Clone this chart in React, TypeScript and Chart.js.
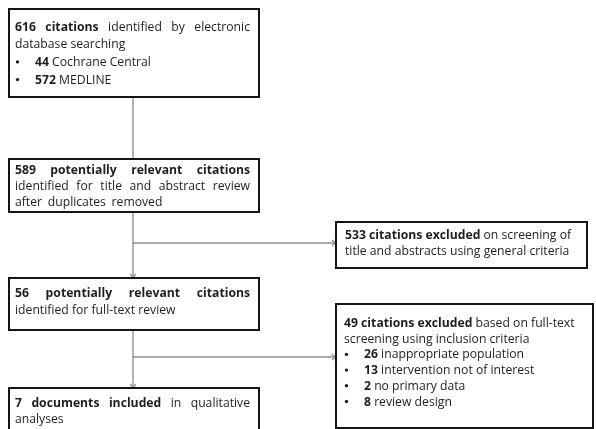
import { useEffect, useRef } from "react";
import { Chart, registerables } from "chart.js";

Chart.register(...registerables);

// ---- data ----
const identifiedTotal = 616;
const sourceNames = ["Cochrane Central", "MEDLINE"];
const sourceCounts = [44, 572];
const screenedCount = 589;
const excludedTitleCount = 533;
const fullTextCount = 56;
const excludedFullCount = 49;
const exclusionReasons = [
  "inappropriate population",
  "intervention not of interest",
  "no primary data",
  "review design",
];
const exclusionCounts = [26, 13, 2, 8];
const includedCount = 7;

// ---- layout (chart value space: x 0..596, y 0..429 from top) ----
type Seg = { t: string; b?: boolean };
type TLine = { segs: Seg[]; justify?: boolean; bullet?: boolean };
type Node = {
  x: number; y: number; w: number; h: number;
  tx: number; tr: number; by: number; lh: number;
  lines: TLine[];
};

const nodes: Node[] = [
  {
    x: 9, y: 9, w: 250, h: 88, tx: 15, tr: 250, by: 30.5, lh: 17.7,
    lines: [
      { segs: [{ t: `${identifiedTotal} citations`, b: true }, { t: " identified by electronic" }], justify: true },
      { segs: [{ t: "database searching" }] },
      ...sourceNames.map((n, i) => ({ bullet: true, segs: [{ t: `${sourceCounts[i]}`, b: true }, { t: " " + n }] })),
    ],
  },
  {
    x: 9, y: 159, w: 250, h: 53, tx: 15, tr: 250, by: 173.5, lh: 16,
    lines: [
      { segs: [{ t: `${screenedCount} potentially relevant citations`, b: true }], justify: true },
      { segs: [{ t: "identified for title and abstract review" }], justify: true },
      { segs: [{ t: "after  duplicates  removed" }] },
    ],
  },
  {
    x: 336, y: 222, w: 251, h: 46, tx: 345, tr: 580, by: 239, lh: 16,
    lines: [
      { segs: [{ t: `${excludedTitleCount} citations excluded`, b: true }, { t: " on screening of" }] },
      { segs: [{ t: "title and abstracts using general criteria" }] },
    ],
  },
  {
    x: 9, y: 278, w: 250, h: 52, tx: 15, tr: 250, by: 297, lh: 16.5,
    lines: [
      { segs: [{ t: `${fullTextCount} potentially relevant citations`, b: true }], justify: true },
      { segs: [{ t: "identified for full-text review" }] },
    ],
  },
  {
    x: 336, y: 304, w: 257, h: 124, tx: 344, tr: 585, by: 327, lh: 15.7,
    lines: [
      { segs: [{ t: `${excludedFullCount} citations excluded`, b: true }, { t: " based on full-text" }] },
      { segs: [{ t: "screening using inclusion criteria" }] },
      ...exclusionReasons.map((r, i) => ({ bullet: true, segs: [{ t: `${exclusionCounts[i]}`, b: true }, { t: " " + r }] })),
    ],
  },
  {
    x: 9, y: 388, w: 250, h: 60, tx: 15, tr: 250, by: 407, lh: 16,
    lines: [
      { segs: [{ t: `${includedCount} documents included`, b: true }, { t: " in qualitative" }], justify: true },
      { segs: [{ t: "analyses" }] },
    ],
  },
];

type Conn = { pts: { x: number; y: number }[]; arrow: boolean };
const connectors: Conn[] = [
  { pts: [{ x: 133, y: 97 }, { x: 133, y: 159 }], arrow: false },
  { pts: [{ x: 133, y: 212 }, { x: 133, y: 278 }], arrow: true },
  { pts: [{ x: 133, y: 243 }, { x: 336, y: 243 }], arrow: true },
  { pts: [{ x: 133, y: 330 }, { x: 133, y: 388 }], arrow: true },
  { pts: [{ x: 133, y: 357 }, { x: 336, y: 357 }], arrow: true },
];

const FONT_FAMILY = "'Open Sans', 'Noto Sans', 'DejaVu Sans', sans-serif";
const FONT_SIZE = 12.2;
const TEXT_COLOR = "#1e1e1e";
const LINE_COLOR = "#8c8c8c";

function fontFor(b?: boolean) {
  return `${b ? "bold " : ""}${FONT_SIZE}px ${FONT_FAMILY}`;
}

const flowPlugin = {
  id: "flow",
  afterDatasetsDraw(chart: any) {
    const ctx: CanvasRenderingContext2D = chart.ctx;
    const xs = chart.scales.x;
    const ys = chart.scales.y;
    const px = (v: number) => xs.getPixelForValue(v);
    const py = (v: number) => ys.getPixelForValue(v);

    // arrowheads
    ctx.save();
    ctx.strokeStyle = LINE_COLOR;
    ctx.lineWidth = 1.2;
    connectors.forEach((c) => {
      if (!c.arrow) return;
      const a = c.pts[c.pts.length - 2];
      const b = c.pts[c.pts.length - 1];
      const ax = px(a.x), ay = py(a.y), bx = px(b.x), by = py(b.y);
      const ang = Math.atan2(by - ay, bx - ax);
      const L = 5;
      ctx.beginPath();
      ctx.moveTo(bx - L * Math.cos(ang - 0.6), by - L * Math.sin(ang - 0.6));
      ctx.lineTo(bx, by);
      ctx.lineTo(bx - L * Math.cos(ang + 0.6), by - L * Math.sin(ang + 0.6));
      ctx.stroke();
    });
    ctx.restore();

    // boxes + text
    nodes.forEach((n) => {
      const x0 = px(n.x), y0 = py(n.y), x1 = px(n.x + n.w), y1 = py(n.y + n.h);
      ctx.save();
      ctx.fillStyle = "#ffffff";
      ctx.fillRect(x0, y0, x1 - x0, y1 - y0);
      ctx.strokeStyle = "#151515";
      ctx.lineWidth = 2;
      ctx.strokeRect(x0, y0, x1 - x0, y1 - y0);
      ctx.fillStyle = TEXT_COLOR;
      ctx.textBaseline = "alphabetic";
      ctx.textAlign = "left";
      n.lines.forEach((ln, i) => {
        const yy = py(n.by + i * n.lh);
        let left = px(n.tx);
        const right = px(n.tr);
        if (ln.bullet) {
          ctx.beginPath();
          ctx.arc(left + 2.5, yy - 4, 1.7, 0, Math.PI * 2);
          ctx.fill();
          left = px(n.tx + 20);
        }
        // split into words
        const words: { t: string; b?: boolean }[] = [];
        ln.segs.forEach((s) => {
          s.t.split(/ +/).forEach((w) => {
            if (w.length) words.push({ t: w, b: s.b });
          });
        });
        const widths = words.map((w) => {
          ctx.font = fontFor(w.b);
          return ctx.measureText(w.t).width;
        });
        let gap: number;
        if (ln.justify && words.length > 1) {
          const tot = widths.reduce((a, b) => a + b, 0);
          gap = (right - left - tot) / (words.length - 1);
        } else {
          ctx.font = fontFor(false);
          gap = ctx.measureText(" ").width;
          const raw = ln.segs.map((s) => s.t).join("");
          if (raw.includes("  ")) gap *= 1.8;
        }
        let cx = left;
        words.forEach((w, k) => {
          ctx.font = fontFor(w.b);
          ctx.fillText(w.t, cx, yy);
          cx += widths[k] + gap;
        });
      });
      ctx.restore();
    });
  },
};

export default function App() {
  const ref = useRef<HTMLCanvasElement | null>(null);
  useEffect(() => {
    if (!ref.current) return;
    const chart = new Chart(ref.current, {
      type: "scatter",
      data: {
        datasets: connectors.map((c) => ({
          data: c.pts,
          showLine: true,
          borderColor: LINE_COLOR,
          borderWidth: 1.3,
          pointRadius: 0,
          fill: false,
        })),
      },
      options: {
        animation: false,
        responsive: true,
        maintainAspectRatio: false,
        layout: { padding: 0 },
        plugins: { legend: { display: false }, tooltip: { enabled: false } },
        events: [],
        scales: {
          x: { type: "linear", min: 0, max: 596, display: false },
          y: { type: "linear", min: 0, max: 429, reverse: true, display: false },
        },
      },
      plugins: [flowPlugin],
    });
    return () => chart.destroy();
  }, []);
  return (
    <div style={{ position: "fixed", left: 0, top: 0, width: 596, height: 429, background: "#fff" }}>
      <canvas ref={ref} />
    </div>
  );
}
